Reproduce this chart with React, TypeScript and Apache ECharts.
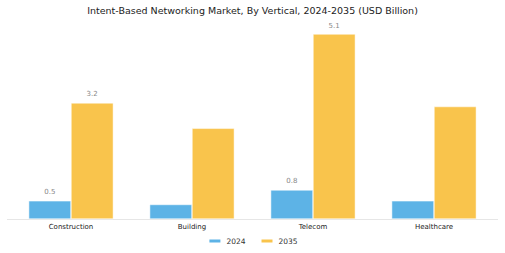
import React, { useEffect, useRef } from "react";
import * as echarts from "echarts";

const categories = ["Construction", "Building", "Telecom", "Healthcare"];
const values2024 = [0.5, 0.4, 0.8, 0.5];
const values2035 = [3.2, 2.5, 5.1, 3.1];
const labeled = [true, false, true, false];
const seriesNames = ["2024", "2035"];
const title = "Intent-Based Networking Market, By Vertical, 2024-2035 (USD Billion)";

const font = "DejaVu Sans";

function toData(vals: number[]) {
  return vals.map((v, i) => ({
    value: v,
    label: { show: labeled[i] },
  }));
}

export default function App() {
  const ref = useRef<HTMLDivElement>(null);
  useEffect(() => {
    if (!ref.current) return;
    const chart = echarts.init(ref.current, null, { renderer: "svg" });
    const labelStyle = {
      position: "top" as const,
      distance: 5,
      fontSize: 7,
      color: "#888888",
      fontFamily: font,
    };
    chart.setOption({
      animation: false,
      backgroundColor: "#ffffff",
      title: {
        text: title,
        left: "center",
        top: 0,
        textStyle: { fontFamily: font, fontSize: 9.5, fontWeight: "normal", color: "#222222" },
      },
      legend: {
        bottom: 3,
        left: "center",
        itemWidth: 13,
        itemHeight: 5,
        itemGap: 14,
        icon: "rect",
        textStyle: { fontFamily: font, fontSize: 7.5, color: "#333333" },
        data: seriesNames,
      },
      grid: { left: 10.5, right: 10.5, top: 19.5, bottom: 34, containLabel: false },
      xAxis: {
        type: "category",
        data: categories,
        axisLine: { show: false },
        axisTick: { show: false },
        axisLabel: { fontFamily: font, fontSize: 7, color: "#222222", margin: 4 },
      },
      yAxis: {
        type: "value",
        min: 0,
        max: 5.5,
        show: false,
        splitLine: { show: false },
      },
      graphic: [
        {
          type: "line",
          shape: { x1: 7, y1: 219.5, x2: 498, y2: 219.5 },
          style: { stroke: "#e6e6e6", lineWidth: 1 },
          z: 0,
        },
      ],
      series: [
        {
          name: seriesNames[0],
          type: "bar",
          data: toData(values2024),
          barCategoryGap: "30%",
          barGap: "0%",
          itemStyle: { color: "#5DB3E6", borderColor: "#ffffff", borderWidth: 0.5 },
          label: labelStyle,
        },
        {
          name: seriesNames[1],
          type: "bar",
          data: toData(values2035),
          barCategoryGap: "30%",
          barGap: "0%",
          itemStyle: { color: "#F9C44C", borderColor: "#ffffff", borderWidth: 0.5 },
          label: labelStyle,
        },
      ],
    });
    return () => chart.dispose();
  }, []);
  return <div ref={ref} style={{ width: 505, height: 253, position: "absolute", left: 0, top: 0 }} />;
}
